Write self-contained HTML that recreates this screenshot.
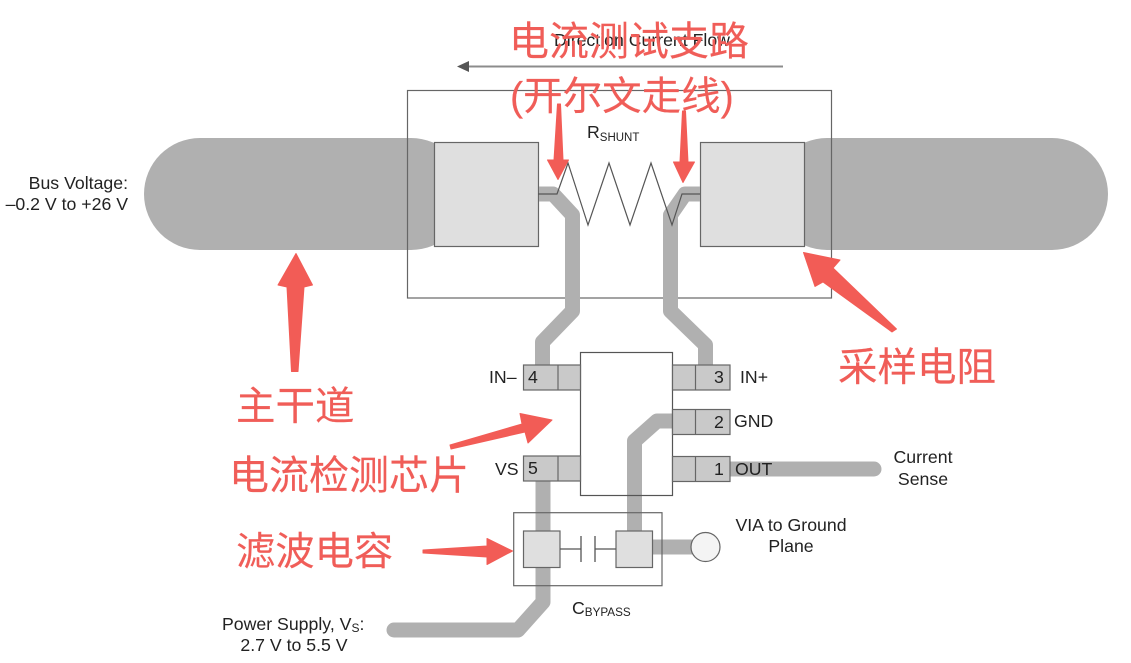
<!DOCTYPE html>
<html><head><meta charset="utf-8"><style>
html,body{margin:0;padding:0;background:#fff;width:1131px;height:663px;overflow:hidden}
svg{display:block}
.t{font-family:"Liberation Sans",sans-serif;font-size:17.7px;fill:#222}
.r{font-family:"Liberation Sans","Noto Sans CJK SC",sans-serif;fill:#f05d58;stroke:#f05d58;stroke-width:.15}
</style></head><body>
<svg width="1131" height="663" viewBox="0 0 1131 663" xmlns="http://www.w3.org/2000/svg">
<rect width="1131" height="663" fill="#fff"/>
<!-- bus -->
<rect x="144" y="138" width="323" height="112" rx="56" fill="#b0b0b0"/>
<rect x="771" y="138" width="337" height="112" rx="56" fill="#b0b0b0"/>
<!-- frame -->
<rect x="407.5" y="90.5" width="424" height="207.5" fill="none" stroke="#666" stroke-width="1.2"/>
<!-- direction -->
<line x1="783" y1="66.5" x2="468" y2="66.5" stroke="#8c8c8c" stroke-width="2"/>
<polygon points="457,66.5 469,61 469,72" fill="#555"/>
<text class="t" x="554" y="46">Direction Current Flow</text>
<!-- pads -->
<rect x="434.5" y="142.5" width="104" height="104" fill="#dfdfdf" stroke="#666" stroke-width="1.2"/>
<rect x="700.5" y="142.5" width="104" height="104" fill="#dfdfdf" stroke="#666" stroke-width="1.2"/>
<!-- IC body -->
<rect x="580.5" y="352.5" width="92" height="143" fill="#fff"/>
<!-- traces -->
<g fill="none" stroke="#b0b0b0" stroke-width="15" stroke-linejoin="round">
<polyline points="539,194 553,194 572.5,215 572.5,311 542.5,342 542.5,366"/>
<polyline points="700,194 685,194 670.5,215 670.5,311 705.5,345 705.5,366"/>
<polyline points="672,421 657,421 634.5,441 634.5,532"/>
<polyline points="543,481 543,602 518,630 394,630" stroke-linecap="round"/>
<line x1="730" y1="469" x2="874" y2="469" stroke-linecap="round"/>
<line x1="652" y1="547" x2="695" y2="547"/>
</g>
<rect x="580.5" y="352.5" width="92" height="143" fill="none" stroke="#555" stroke-width="1.2"/>
<!-- resistor -->
<polyline points="538,194 557,194 568,163 588,225 609,163 630,225 651,163 672,225 682,194 700,194" fill="none" stroke="#555" stroke-width="1.2"/>
<text class="t" x="587" y="138">R<tspan font-size="11.5" dy="3">SHUNT</tspan></text>
<!-- pins -->
<g fill="#c9c9c9" stroke="#666" stroke-width="1.2">
<rect x="523.5" y="365" width="57" height="25"/><line x1="558" y1="365" x2="558" y2="390"/>
<rect x="523.5" y="456" width="57" height="25"/><line x1="558" y1="456" x2="558" y2="481"/>
<rect x="672.5" y="365" width="57.5" height="25"/><line x1="695.5" y1="365" x2="695.5" y2="390"/>
<rect x="672.5" y="409.5" width="57.5" height="25"/><line x1="695.5" y1="409.5" x2="695.5" y2="434.5"/>
<rect x="672.5" y="456.5" width="57.5" height="25"/><line x1="695.5" y1="456.5" x2="695.5" y2="481.5"/>
</g>
<text class="t" x="528" y="383">4</text>
<text class="t" x="528" y="474">5</text>
<text class="t" x="714" y="383">3</text>
<text class="t" x="714" y="428">2</text>
<text class="t" x="714" y="475">1</text>
<text class="t" x="489" y="383">IN–</text>
<text class="t" x="495" y="475">VS</text>
<text class="t" x="740" y="383">IN+</text>
<text class="t" x="734" y="427">GND</text>
<text class="t" x="735" y="475">OUT</text>
<text class="t" x="923" y="463" text-anchor="middle">Current</text>
<text class="t" x="923" y="485" text-anchor="middle">Sense</text>
<text class="t" x="128" y="189" text-anchor="end">Bus Voltage:</text>
<text class="t" x="128" y="210" text-anchor="end">–0.2 V to +26 V</text>
<text class="t" x="791" y="531" text-anchor="middle">VIA to Ground</text>
<text class="t" x="791" y="552" text-anchor="middle">Plane</text>
<text class="t" x="222" y="630">Power Supply, V<tspan font-size="12" dy="2">S</tspan><tspan dy="-2">:</tspan></text>
<text class="t" x="294" y="651" text-anchor="middle">2.7 V to 5.5 V</text>
<text class="t" x="572" y="614">C<tspan font-size="11.7" dy="2">BYPASS</tspan></text>
<!-- capacitor -->
<rect x="513.7" y="512.7" width="148.3" height="73" fill="none" stroke="#666" stroke-width="1.2"/>
<rect x="523.5" y="531" width="36.5" height="36.5" fill="#dfdfdf" stroke="#666" stroke-width="1.2"/>
<rect x="616" y="531" width="36.5" height="36.5" fill="#dfdfdf" stroke="#666" stroke-width="1.2"/>
<path d="M560 549H581M581 536V562M595 536V562M595 549H616" fill="none" stroke="#555" stroke-width="1.3"/>
<circle cx="705.5" cy="547" r="14.5" fill="#f4f4f4" stroke="#666" stroke-width="1.2"/>
<!-- red arrows -->
<g fill="#f25c56" stroke="#f25c56" stroke-width="1" stroke-linejoin="round">
<polygon points="557.5,104 560.5,104 563,160 568.5,160 558,179.5 547.5,160 554,160"/>
<polygon points="682.5,111 685.5,111 688,162 694.5,162 683,182.5 673.5,162 680,162"/>
<polygon points="291.5,371.5 298,371.5 304,287 312.5,285 296,253.5 278,285 287,287"/>
<polygon points="892,332 896.5,329 833,268 840,260 803.5,252.5 815,286.5 823,282"/>
<polygon points="450,445 451,449 525,432 528,443 552,420 520,413.5 522,424"/>
<polygon points="423,550 423,553 487,557 487,564.5 512.5,551 487,538.5 487,546"/>
</g>
<!-- red labels -->
<text class="r" x="509" y="55" font-size="40">电流测试支路</text>
<text class="r" x="510" y="110" font-size="39.5">(开尔文走线)</text>
<text class="r" x="236" y="420" font-size="39.5">主干道</text>
<text class="r" x="838" y="381" font-size="39.5">采样电阻</text>
<text class="r" x="229" y="489" font-size="40">电流检测芯片</text>
<text class="r" x="236" y="565" font-size="39.3">滤波电容</text>
</svg>
</body></html>
